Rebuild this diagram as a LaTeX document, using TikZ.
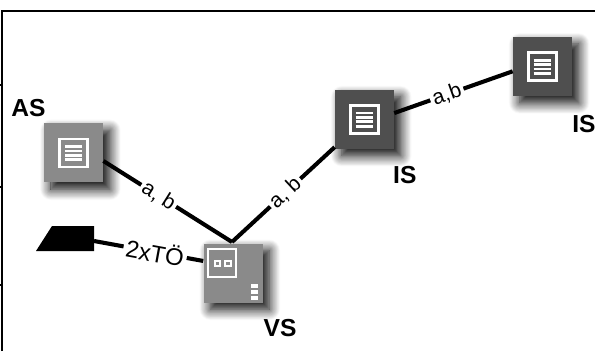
\documentclass[tikz,border=0pt]{standalone}
\usepackage{fontspec}
\setmainfont{Liberation Sans}
\usepackage{tikz}
\usetikzlibrary{shadows.blur}
\definecolor{boxlight}{gray}{0.54}
\definecolor{boxdark}{gray}{0.31}
\tikzset{
	srvbox/.style={minimum size=1.475cm, inner sep=0, blur shadow={shadow xshift=0.17cm, shadow yshift=-0.17cm, shadow blur radius=0.27cm, shadow blur steps=14, shadow opacity=100}},
	link/.style={line width=2.9pt},
	linklabel/.style={fill=white, inner sep=2pt, sloped, font=\fontsize{15}{15}\selectfont},
	srvname/.style={font=\fontsize{17.5}{17.5}\selectfont\bfseries},
	frameline/.style={line width=1.6pt},
	iconline/.style={white, line width=1.6pt},
}
\newcommand{\listicon}[1]{%
	\draw [iconline] ([shift={(-0.35,-0.35)}]#1.center) rectangle ([shift={(0.35,0.35)}]#1.center);
	\foreach \y in {-0.17,-0.06,0.05,0.16}
		\draw [white, line width=2pt] ([shift={(-0.22,\y)}]#1.center) -- ([shift={(0.22,\y)}]#1.center);
}
\begin{document}
\begin{tikzpicture}
		\useasboundingbox (0,0) rectangle (14.875,8.775);
		% frame
		\draw [frameline] (0.05,0) -- (0.05,8.5) -- (14.875,8.5);
		\foreach \y in {6.65,4.1,1.65}
			\draw [frameline] (0,\y) -- (0.05,\y);
		% boxes
		\node [srvbox, fill=boxlight] (as) at (1.84,4.95) {};
		\node [srvbox, fill=boxdark] (isa) at (9.11,5.79) {};
		\node [srvbox, fill=boxdark] (isb) at (13.56,7.11) {};
		\node [srvbox, fill=boxlight] (vs) at (5.825,1.95) {};
		\fill (0.9,2.5) -- (2.35,2.5) -- (2.35,3.125) -- (1.3,3.125) -- cycle;
		\coordinate (tank) at (2.35,2.75);
		\coordinate (apex) at (5.8,2.725);
		% icons
		\listicon{as}
		\listicon{isa}
		\listicon{isb}
		\draw [iconline] ([shift={(-0.625,-0.1)}]vs.center) rectangle ([shift={(0.075,0.6)}]vs.center);
		\draw [white, line width=1.3pt] ([shift={(-0.46,0.17)}]vs.center) rectangle ([shift={(-0.32,0.31)}]vs.center);
		\draw [white, line width=1.3pt] ([shift={(-0.2,0.17)}]vs.center) rectangle ([shift={(-0.06,0.31)}]vs.center);
		\foreach \y in {-0.325,-0.475,-0.625}
			\draw [white, line width=2.2pt] ([shift={(0.45,\y)}]vs.center) -- ([shift={(0.63,\y)}]vs.center);
		% links
		\draw [link] (as.-15) -- node [linklabel, pos=0.43] {a, b} (apex);
		\draw [link] (apex) -- node [linklabel, pos=0.52] {a, b} (isa.223);
		\draw [link] (isa.12) -- node [linklabel, pos=0.445] {a,b} (isb.189);
		\draw [link] (tank) -- node [linklabel, pos=0.56, font=\fontsize{17}{17}\selectfont] {2xTÖ} (vs.158);
		% names
		\node [srvname] (asname) at (0.71,6.07) {AS};
		\node [srvname] (isaname) at (10.12,4.4) {IS};
		\node [srvname] (isbname) at (14.6,5.67) {IS};
		\node [srvname] (vsname) at (7,0.57) {VS};
\end{tikzpicture}
\end{document}
